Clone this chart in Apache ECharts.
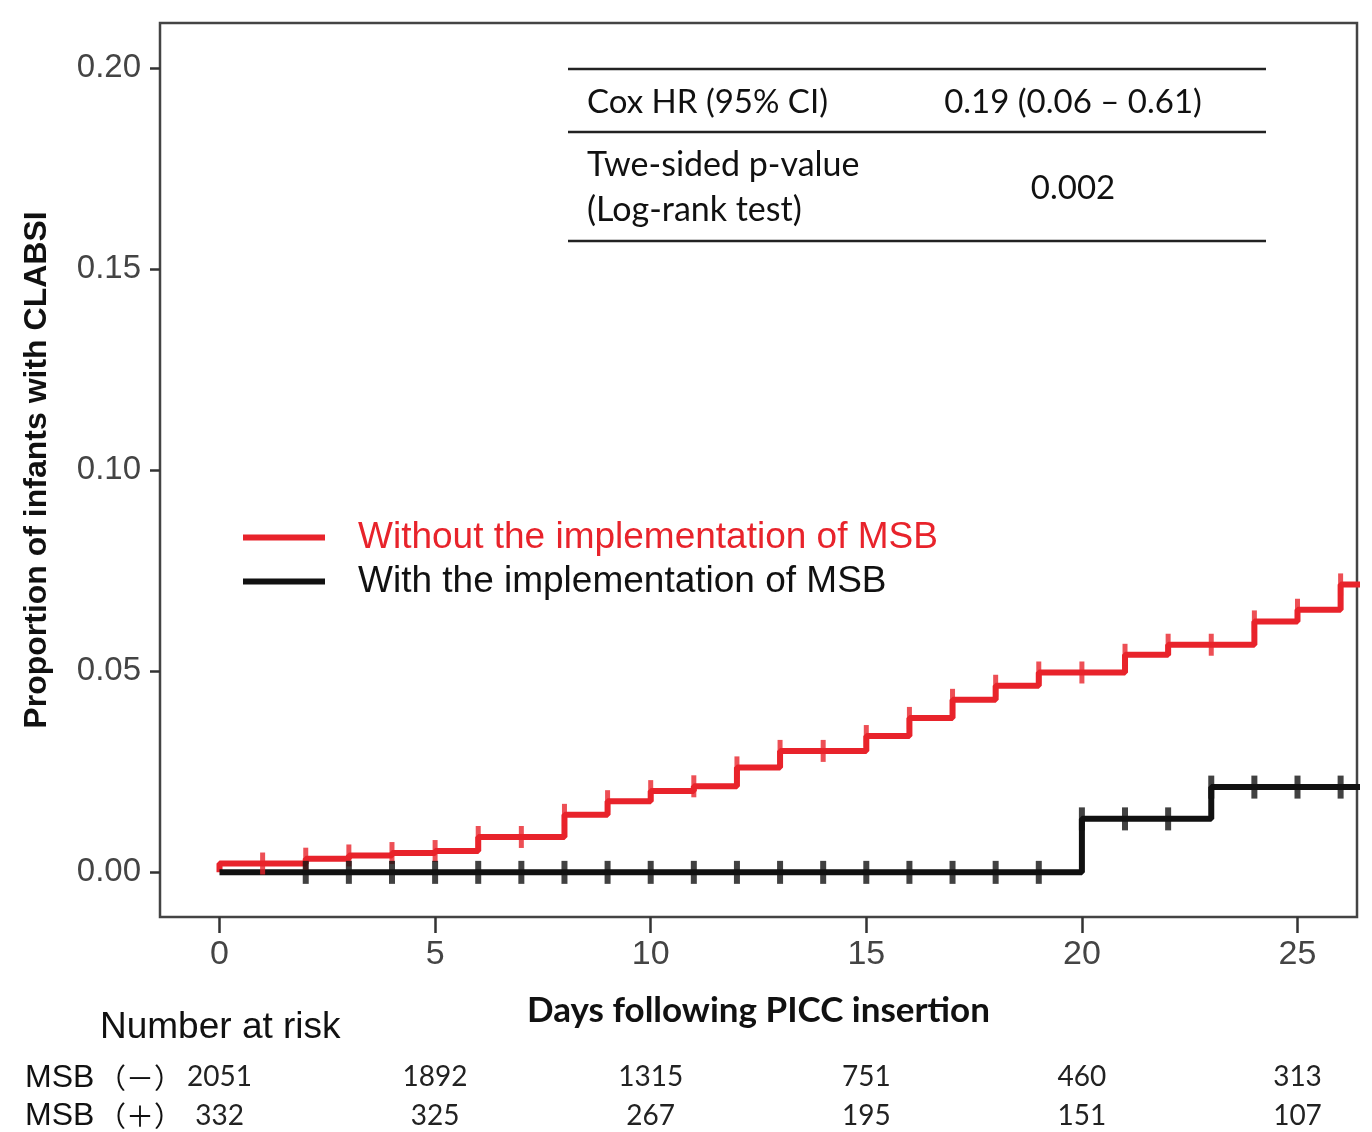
<!DOCTYPE html>
<html>
<head>
<meta charset="utf-8">
<script src="https://cdn.jsdelivr.net/npm/echarts@6/dist/echarts.min.js"></script>
<style>
html,body{margin:0;padding:0;background:#fff;}
#chart{width:1372px;height:1132px;}
</style>
</head>
<body>
<div id="chart"></div>
<script>
// ---- data ----
var redNames = 'Without the implementation of MSB';
var blackNames = 'With the implementation of MSB';
// cumulative incidence on [d, d+1) for d = 0..26
var redDays = [0,1,2,3,4,5,6,7,8,9,10,11,12,13,14,15,16,17,18,19,20,21,22,23,24,25,26];
var redVals = [0.0022,0.0022,0.0034,0.0042,0.0048,0.0053,0.0088,0.0088,0.0143,0.0177,0.0202,0.0214,0.0261,0.0302,0.0302,0.0339,0.0384,0.0429,0.0464,0.0497,0.0497,0.0541,0.0566,0.0566,0.0624,0.0653,0.0716];
var blackDays = [0,1,2,3,4,5,6,7,8,9,10,11,12,13,14,15,16,17,18,19,20,21,22,23,24,25,26];
var blackVals = [0,0,0,0,0,0,0,0,0,0,0,0,0,0,0,0,0,0,0,0,0.0133,0.0133,0.0133,0.0212,0.0212,0.0212,0.0212];
var redCensor = [1,2,3,4,5,6,7,8,9,10,11,12,13,14,15,16,17,18,19,20,21,22,23,24,25,26];
var blackCensor = [2,3,4,5,6,7,8,9,10,11,12,13,14,15,16,17,18,19,20,21,22,23,24,25,26];
var xTicks = [0,5,10,15,20,25];
var yTicks = [0,0.05,0.10,0.15,0.20];
var riskMinus = [2051,1892,1315,751,460,313];
var riskPlus = [332,325,267,195,151,107];
var tableRows = [['Cox HR (95% CI)', '0.19 (0.06 \u2013 0.61)'], ['Twe-sided p-value\n(Log-rank test)', '0.002']];

var X_MIN = -1.38, X_MAX = 26.38, Y_MIN = -0.0111, Y_MAX = 0.2112;
var RED = '#e8232b', BLACK = '#111111';

function stepData(days, vals) {
  var d = [[days[0], 0]];
  for (var i = 0; i < days.length; i++) d.push([days[i], vals[i]]);
  d.push([X_MAX + 1, vals[vals.length - 1]]);
  return d;
}
function censorData(cdays, days, vals) {
  return cdays.map(function (c) { return [c, vals[days.indexOf(c)]]; });
}
function riskAxis(arr, offset) {
  return {
    type: 'value', gridIndex: 0, position: 'bottom', offset: offset,
    min: X_MIN, max: X_MAX,
    axisLine: {show: false, onZero: false}, axisTick: {show: false}, splitLine: {show: false},
    axisLabel: {
      customValues: xTicks, margin: 0,
      fontFamily: 'Lato', fontSize: 28, color: '#222',
      formatter: function (v) { var i = xTicks.indexOf(v); return i >= 0 ? String(arr[i]) : ''; }
    }
  };
}

var chart = echarts.init(document.getElementById('chart'));
var option = {
  animation: false,
  backgroundColor: '#fff',
  grid: {left: 160, top: 23, right: 15, bottom: 215, show: true, borderColor: '#444', borderWidth: 2.5, backgroundColor: 'transparent'},
  legend: {
    orient: 'vertical', left: 243, top: 519, padding: 0, itemWidth: 82, itemHeight: 6, itemGap: 7,
    icon: 'rect', selectedMode: false,
    textStyle: {fontFamily: 'Liberation Sans', fontSize: 37, lineHeight: 37, padding: [0, 0, 0, 28]},
    data: [
      {name: redNames, itemStyle: {color: RED}, textStyle: {color: RED}},
      {name: blackNames, itemStyle: {color: BLACK}, textStyle: {color: '#111'}}
    ]
  },
  xAxis: [{
    type: 'value', min: X_MIN, max: X_MAX,
    axisLine: {show: false, onZero: false}, splitLine: {show: false},
    axisTick: {show: true, customValues: xTicks, length: 16, lineStyle: {color: '#333', width: 2.5}},
    axisLabel: {customValues: xTicks, margin: 21, fontFamily: 'Liberation Sans', fontSize: 34, color: '#444'},
    name: 'Days following PICC insertion', nameLocation: 'middle', nameGap: 76,
    nameTextStyle: {fontFamily: 'Lato', fontWeight: 'bold', fontSize: 35, color: '#111'}
  }, riskAxis(riskMinus, 146), riskAxis(riskPlus, 185)],
  yAxis: {
    type: 'value', min: Y_MIN, max: Y_MAX,
    axisLine: {show: false, onZero: false}, splitLine: {show: false},
    axisTick: {show: true, customValues: yTicks, length: 10, lineStyle: {color: '#333', width: 2.5}},
    axisLabel: {customValues: yTicks, margin: 19, fontFamily: 'Liberation Sans', fontSize: 33, color: '#444',
      formatter: function (v) { return v.toFixed(2); }},
    name: 'Proportion of infants with CLABSI', nameLocation: 'middle', nameGap: 123,
    nameTextStyle: {fontFamily: 'Liberation Sans', fontWeight: 'bold', fontSize: 32, color: '#111', verticalAlign: 'middle'}
  },
  series: [
    {name: redNames, type: 'line', step: 'end', data: stepData(redDays, redVals), symbol: 'none',
      lineStyle: {color: RED, width: 6}, itemStyle: {color: RED}, z: 3},
    {name: blackNames, type: 'line', step: 'end', data: stepData(blackDays, blackVals), symbol: 'none',
      lineStyle: {color: BLACK, width: 6}, itemStyle: {color: BLACK}, z: 4},
    {type: 'scatter', data: censorData(redCensor, redDays, redVals), symbol: 'rect', symbolSize: [5, 22],
      itemStyle: {color: RED}, z: 5, silent: true},
    {type: 'scatter', data: censorData(blackCensor, blackDays, blackVals), symbol: 'rect', symbolSize: [6, 23],
      itemStyle: {color: BLACK}, z: 6, silent: true}
  ],
  graphic: [
    {type: 'line', shape: {x1: 568, y1: 69, x2: 1266, y2: 69}, style: {stroke: '#222', lineWidth: 2.5}},
    {type: 'line', shape: {x1: 568, y1: 132, x2: 1266, y2: 132}, style: {stroke: '#222', lineWidth: 2.5}},
    {type: 'line', shape: {x1: 568, y1: 241, x2: 1266, y2: 241}, style: {stroke: '#222', lineWidth: 2.5}},
    {type: 'text', x: 587, y: 102, style: {text: tableRows[0][0], font: '33px Lato', fill: '#111', verticalAlign: 'middle'}},
    {type: 'text', x: 1073, y: 102, style: {text: tableRows[0][1], font: '33px Lato', fill: '#111', align: 'center', verticalAlign: 'middle'}},
    {type: 'text', x: 587, y: 188, style: {text: tableRows[1][0], font: '34px Lato', fill: '#111', lineHeight: 45, verticalAlign: 'middle'}},
    {type: 'text', x: 1073, y: 188, style: {text: tableRows[1][1], font: '33px Lato', fill: '#111', align: 'center', verticalAlign: 'middle'}},
    {type: 'text', x: 100, y: 1028, style: {text: 'Number at risk', font: '37px "Liberation Sans"', fill: '#111', verticalAlign: 'middle'}},
    {type: 'text', x: 25, y: 1078, style: {text: 'MSB', font: '32px "Liberation Sans"', fill: '#111', verticalAlign: 'middle'}},
    {type: 'text', x: 98, y: 1078, style: {text: '\uff08\uff0d\uff09', font: '28px "Noto Sans CJK JP"', fill: '#111', verticalAlign: 'middle'}},
    {type: 'text', x: 25, y: 1116, style: {text: 'MSB', font: '32px "Liberation Sans"', fill: '#111', verticalAlign: 'middle'}},
    {type: 'text', x: 98, y: 1116, style: {text: '\uff08\uff0b\uff09', font: '28px "Noto Sans CJK JP"', fill: '#111', verticalAlign: 'middle'}}
  ]
};
chart.setOption(option);
</script>
</body>
</html>
